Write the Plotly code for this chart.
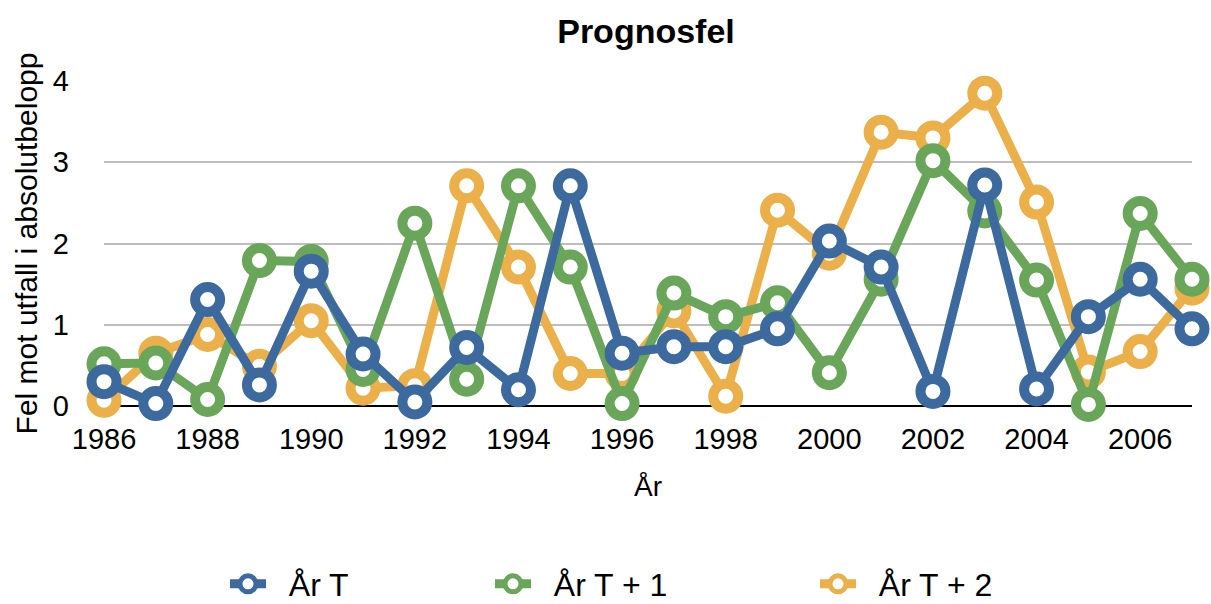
import plotly.graph_objects as go

years = list(range(1986, 2008))
ar_t = [0.30, 0.03, 1.31, 0.26, 1.66, 0.64, 0.05, 0.72, 0.20, 2.71, 0.65,
        0.73, 0.73, 0.95, 2.03, 1.71, 0.18, 2.72, 0.21, 1.10, 1.56, 0.95]
ar_t1 = [0.52, 0.53, 0.08, 1.79, 1.78, 0.45, 2.25, 0.33, 2.71, 1.71, 0.03,
         1.39, 1.10, 1.27, 0.41, 1.56, 3.02, 2.40, 1.55, 0.02, 2.37, 1.56]
ar_t2 = [0.07, 0.65, 0.88, 0.49, 1.05, 0.22, 0.25, 2.71, 1.71, 0.40, 0.40,
         1.17, 0.12, 2.41, 1.88, 3.37, 3.30, 3.85, 2.51, 0.42, 0.67, 1.45]
tick_years = list(range(1986, 2007, 2))

BLUE = "rgb(61,106,158)"
GREEN = "rgb(106,166,90)"
ORANGE = "rgb(236,176,74)"
FONT = "Liberation Sans, Arial, Helvetica, sans-serif"
PAD = "\u00a0\u00a0"

fig = go.Figure()
series = [("År T + 2", ar_t2, ORANGE, "legend3"),
          ("År T + 1", ar_t1, GREEN, "legend2"),
          ("År T", ar_t, BLUE, "legend")]
for name, vals, col, lg in series:
    fig.add_trace(go.Scatter(
        x=years, y=vals, name=PAD + name, mode="lines+markers",
        line=dict(color=col, width=9),
        marker=dict(symbol="circle", size=25, color="white",
                    line=dict(color=col, width=10)),
        cliponaxis=False, legend=lg, showlegend=True))

leg_common = dict(orientation="h", xref="container", yref="container",
                  yanchor="middle", y=1 - 584 / 604, xanchor="left",
                  font=dict(family=FONT, size=32, color="black"),
                  bgcolor="rgba(0,0,0,0)", itemwidth=36,
                  tracegroupgap=0)

fig.update_layout(
    width=1211, height=604,
    showlegend=True,
    margin=dict(l=104, r=19, t=81, b=198),
    paper_bgcolor="white", plot_bgcolor="white",
    font=dict(family=FONT, color="black"),
    title=dict(text="<b>Prognosfel</b>", x=646 / 1211, xanchor="center",
               y=1 - 31 / 604, yanchor="middle",
               font=dict(family=FONT, size=34, color="black")),
    xaxis=dict(range=[1986, 2007], tickmode="array", tickvals=tick_years,
               ticktext=[str(y) for y in tick_years],
               showgrid=False, zeroline=False, showline=False,
               ticks="", ticklabelstandoff=13,
               tickfont=dict(family=FONT, size=29, color="black"),
               title=dict(text="År", standoff=22,
                          font=dict(family=FONT, size=28, color="black"))),
    yaxis=dict(range=[0, 4], tickmode="array", tickvals=[0, 1, 2, 3, 4],
               showgrid=True, gridcolor="rgb(190,190,190)", gridwidth=2,
               zeroline=True, zerolinecolor="black", zerolinewidth=2,
               showline=False, ticks="", ticklabelstandoff=34,
               tickfont=dict(family=FONT, size=29, color="black"),
               title=dict(text="Fel mot utfall i absolutbelopp", standoff=6,
                          font=dict(family=FONT, size=30, color="black"))),
    legend=dict(x=225 / 1211, **leg_common),
    legend2=dict(x=490 / 1211, **leg_common),
    legend3=dict(x=815 / 1211, **leg_common),
)

fig.write_html("out.html")
